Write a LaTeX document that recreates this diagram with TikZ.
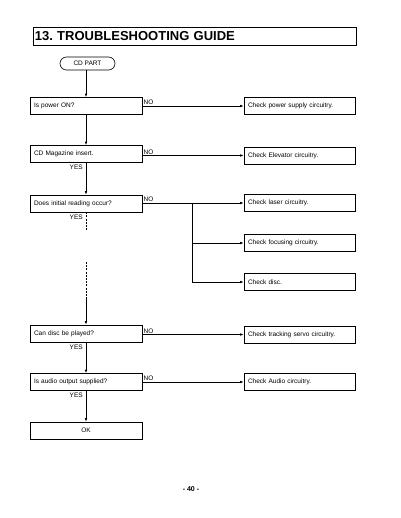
\documentclass[tikz,border=0pt]{standalone}
\usepackage{fontspec}
\setmainfont{Liberation Sans}
\usetikzlibrary{arrows.meta}
\frenchspacing
\begin{document}
\begin{tikzpicture}[x=1pt,y=-1pt,
  every node/.style={font=\fontsize{6.5}{7.5}\selectfont},
  lbox/.style={draw, line width=0.6pt, minimum width=112pt, minimum height=17pt, text width=104pt, align=left, inner xsep=4pt, inner ysep=0pt},
  rbox/.style={draw, line width=0.6pt, minimum width=111pt, minimum height=17pt, text width=103pt, align=left, inner xsep=4pt, inner ysep=0pt},
  conn/.style={line width=0.65pt},
  arr/.style={conn, -{Latex[length=3.5pt,width=2.5pt]}},
  lab/.style={inner sep=1pt},
  yes/.style={lab, anchor=north east, pos=0, xshift=-2pt, yshift=-1pt}
]
\useasboundingbox (0,0) rectangle (400,518);
% title
\node[draw, line width=0.6pt, minimum width=323pt, minimum height=18pt, anchor=west, inner xsep=2pt, text width=319pt, align=left, font=\fontsize{13}{15}\bfseries] (title) at (32.5,36) {13. TROUBLESHOOTING GUIDE};
% start
\node[draw, line width=0.6pt, rounded corners=6.5pt, minimum width=55pt, minimum height=13pt, inner sep=0pt] (start) at (87.5,63.5) {CD PART};
% left column
\node[lbox] (q1) at (86,106) {Is power ON?};
\node[lbox] (q2) at (86,154) {CD Magazine insert.};
\node[lbox] (q3) at (86,203.5) {Does initial reading occur?};
\node[lbox] (q4) at (86,333.5) {Can disc be played?};
\node[lbox] (q5) at (86,382) {Is audio output supplied?};
\node[lbox, align=center] (ok) at (86,430.5) {OK};
% right column
\node[rbox] (r1) at (299.5,106) {Check power supply circuitry.};
\node[rbox] (r2) at (299.5,155.5) {Check Elevator circuitry.};
\node[rbox] (r3) at (299.5,203) {Check laser circuitry.};
\node[rbox] (r4) at (299.5,243) {Check focusing circuitry.};
\node[rbox] (r5) at (299.5,282) {Check disc.};
\node[rbox] (r6) at (299.5,334.5) {Check tracking servo circuitry.};
\node[rbox] (r7) at (299.5,382) {Check Audio circuitry.};
% page number
\node[font=\fontsize{7}{8}\selectfont\bfseries] (pg) at (191,489) {- 40 -};
% vertical flow
\draw[arr] (start.south -| q1.north) -- (q1.north);
\draw[arr] (q1.south) -- (q2.north);
\draw[arr] (q2.south) -- node[yes] {YES} (q3.north);
\coordinate (d1) at (86,231);
\coordinate (d2) at (86,262);
\coordinate (d3) at (86,298);
\draw[conn, dash pattern=on 2pt off 1.2pt] (q3.south) -- node[yes] {YES} (d1);
\draw[conn, dash pattern=on 2pt off 1.2pt] (d2) -- (d3);
\draw[arr] (d3) -- (q4.north);
\draw[arr] (q4.south) -- node[yes] {YES} (q5.north);
\draw[arr] (q5.south) -- node[yes] {YES} (ok.north);
% NO branches
\draw[arr] (q1.east) -- node[lab, anchor=south west, pos=0] {NO} (r1.west);
\draw[arr] (q2.east |- r2.west) -- node[lab, anchor=south west, pos=0] {NO} (r2.west);
\draw[arr] (q3.east |- r3.west) -- node[lab, anchor=south west, pos=0] {NO} (r3.west);
\coordinate (b) at (192,203);
\draw[arr] (b) |- (r4.west);
\draw[arr] (b) |- (r5.west);
\draw[arr] (q4.east |- r6.west) -- node[lab, anchor=south west, pos=0] {NO} (r6.west);
\draw[arr] (q5.east) -- node[lab, anchor=south west, pos=0] {NO} (r7.west);
\end{tikzpicture}
\end{document}
